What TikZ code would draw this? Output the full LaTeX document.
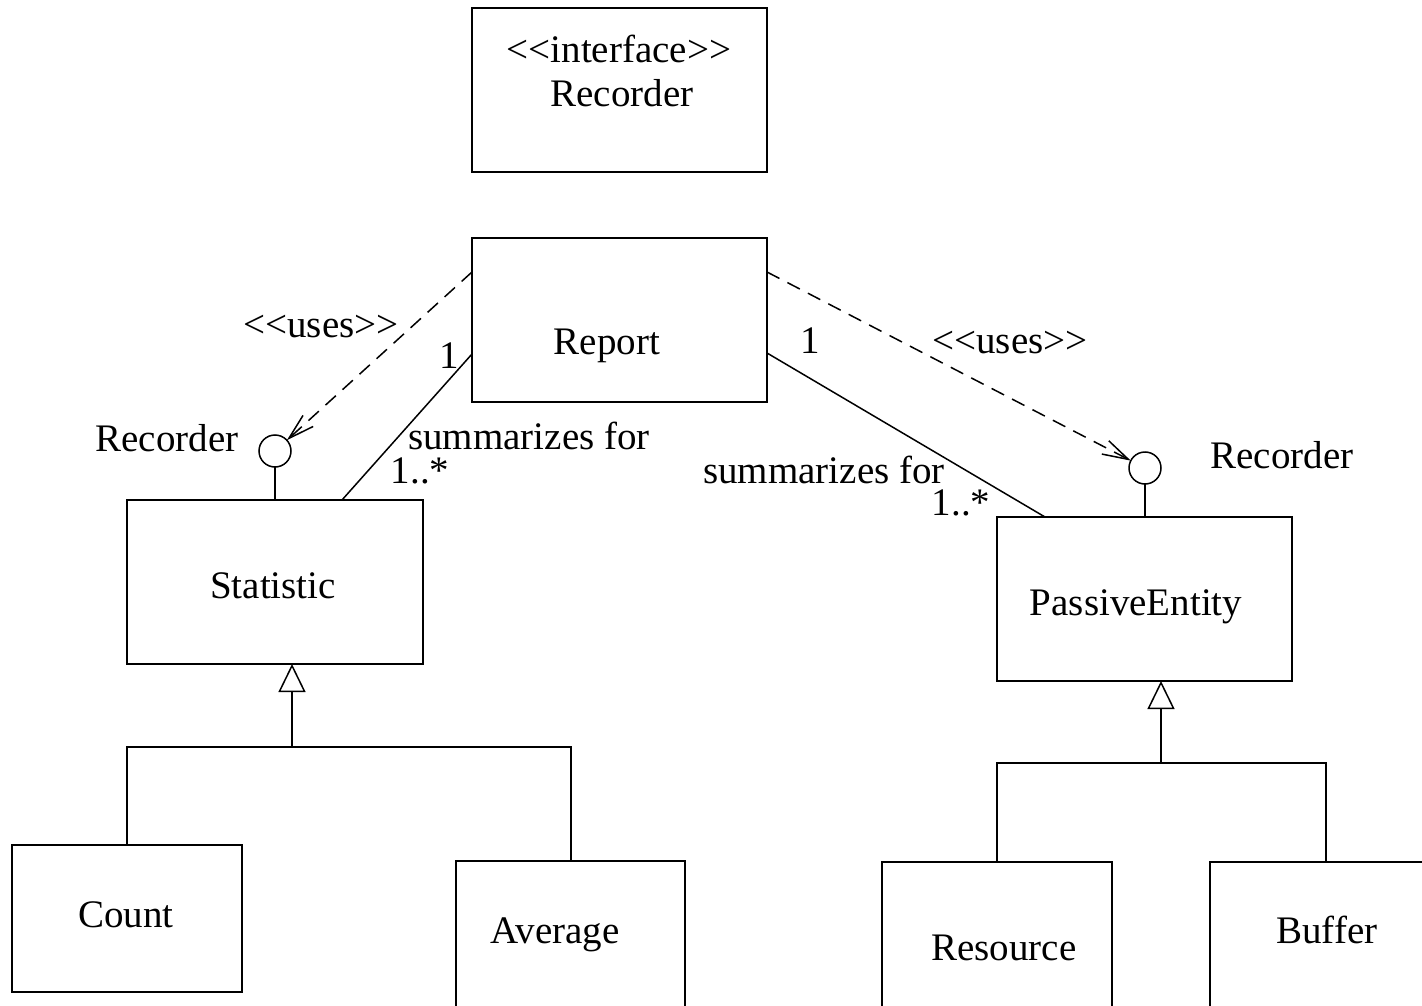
\documentclass[tikz,border=0pt]{standalone}
\usepackage{fontspec}
\setmainfont{Liberation Serif}
\usetikzlibrary{arrows.meta,calc}

\begin{document}
\begin{tikzpicture}[x=1pt,y=-1pt,
  every node/.style={inner sep=0pt, outer sep=0pt},
  box/.style={draw, line width=1.6pt, fill=none},
  lbl/.style={anchor=base, font=\fontsize{39}{46}\selectfont},
  conn/.style={line width=1.5pt},
  uses/.style={conn, dash pattern=on 14pt off 9pt,
    -{Straight Barb[length=26pt, width=15pt, line width=1.5pt]}},
  gen/.style={conn, -{Triangle[open, length=28pt, width=27pt, line width=1.5pt]}},
  lollipop/.style={draw, circle, line width=1.5pt, minimum size=32pt, fill=white}
]
\useasboundingbox (0,0) rectangle (1422,1006);
\clip (0,0) rectangle (1422,1006);
\fill[white] (0,0) rectangle (1422,1006);

% class boxes
\node[box, minimum width=295pt, minimum height=164pt] (iface)    at (619.5,90) {};
\node[box, minimum width=295pt, minimum height=164pt] (report)   at (619.5,320) {};
\node[box, minimum width=296pt, minimum height=164pt] (stat)     at (275,582) {};
\node[box, minimum width=295pt, minimum height=164pt] (passive)  at (1144.5,599) {};
\node[box, minimum width=230pt, minimum height=147pt] (count)    at (127,918.5) {};
\node[box, minimum width=229pt, minimum height=147pt] (average)  at (570.5,934.5) {};
\node[box, minimum width=230pt, minimum height=147pt] (resource) at (997,935.5) {};
\node[box, minimum width=230pt, minimum height=147pt] (buffer)   at (1325,935.5) {};

% class names
\node[lbl] (t-stereo)   at (619,63)  {<{}<interface>{}>};
\node[lbl] (t-iface)    at (622,107) {Recorder};
\node[lbl] (t-report)   at (607,354) {Report};
\node[lbl] (t-stat)     at (273,598) {Statistic};
\node[lbl] (t-passive)  at (1136,615) {PassiveEntity};
\node[lbl] (t-count)    at (126,927) {Count};
\node[lbl] (t-average)  at (555,943) {Average};
\node[lbl] (t-resource) at (1004,960) {Resource};
\node[lbl] (t-buffer)   at (1327,943) {Buffer};

% provided interfaces (lollipops)
\node[lollipop] (lstat) at (275,451) {};
\node[lollipop] (lpass) at (1145,468) {};
\draw[conn] (lstat.south) -- (lstat.south |- stat.north);
\draw[conn] (lpass.south) -- (lpass.south |- passive.north);
\node[lbl] (t-lstat) at (167,451) {Recorder};
\node[lbl] (t-lpass) at (1282,468) {Recorder};

% dependencies on the Recorder interface
\coordinate (rpl) at ($(report.north west)+(0,34)$);
\coordinate (rpr) at ($(report.north east)+(0,34)$);
\draw[uses] (rpl) -- (lstat);
\draw[uses] (rpr) -- (lpass);
\node[lbl] (t-usesl) at (321,337) {<{}<uses>{}>};
\node[lbl] (t-usesr) at (1010,353) {<{}<uses>{}>};

% associations
\coordinate (asl) at ($(report.north west)+(0,116)$);
\coordinate (asr) at ($(report.north east)+(0,115)$);
\draw[conn] (asl) -- (stat.north -| 342,0);
\draw[conn] (asr) -- (passive.north -| 1045,0);
\node[lbl] (t-onel)  at (449,368) {1};
\node[lbl] (t-suml)  at (529,449) {summarizes for};
\node[lbl] (t-manyl) at (420,483) {1..*};
\node[lbl] (t-oner)  at (810,353) {1};
\node[lbl] (t-sumr)  at (824,483) {summarizes for};
\node[lbl] (t-manyr) at (961,515) {1..*};

% generalization: Statistic
\coordinate (sj) at (292,747);
\draw[conn] (count.north -| 127,0) -- (127,747) -- (571,747) -- (average.north -| 571,0);
\draw[gen] (sj) -- (sj |- stat.south);

% generalization: PassiveEntity
\coordinate (pj) at (1161,763);
\draw[conn] (resource.north -| 997,0) -- (997,763) -- (1326,763) -- (buffer.north -| 1326,0);
\draw[gen] (pj) -- (pj |- passive.south);
\end{tikzpicture}
\end{document}
